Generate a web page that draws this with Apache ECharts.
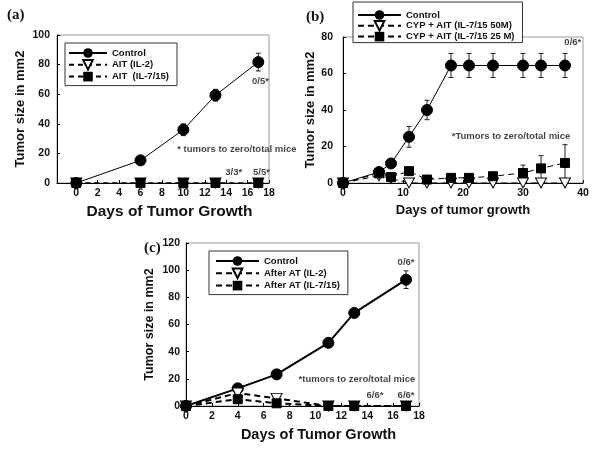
<!DOCTYPE html>
<html><head><meta charset="utf-8">
<script src="https://cdn.jsdelivr.net/npm/echarts@6/dist/echarts.min.js"></script>
<style>html,body{margin:0;padding:0;background:#fff}#c{width:600px;height:449px}</style>
</head><body><div id="c"></div>
<script>
// ---- Panel (a) ----
var aDays = [0, 6, 10, 13, 17];
var aControl = [0, 15.3, 36, 59.3, 81.7];
var aControlErr = [0, 1, 4, 4, 6];
var aIL2 = [0, 0, 0, 0, 0];
var aIL715 = [0, 0, 0, 0, 0];
var aTicks = [0, 2, 4, 6, 8, 10, 12, 14, 16, 18];
var aNotes = [[17.2, 69, '0/5*'], [15, 22.6, '* tumors to zero/total mice'], [14.7, 6.9, '3/3*'], [17.3, 6.9, '5/5*']];

// ---- Panel (b) ----
var bDays = [0, 6, 8, 11, 14, 18, 21, 25, 30, 33, 37];
var bControl = [0, 6, 10.7, 25.3, 40, 64.4, 64.4, 64.4, 64.4, 64.4, 64.4];
var bControlErr = [0, 1, 2, 5.7, 5.3, 6.6, 6.6, 6.6, 6.6, 6.6, 6.6];
var b50M = [0, 4, 2.5, 0, 0, 0, 0, 0, 0, 0, 0];
var b25M = [0, 5.3, 3.3, 6.5, 1.9, 2.8, 2.8, 3.7, 5.5, 8, 11];
var b25MErr = [0, 0, 0, 0, 0, 0, 0, 1, 4.3, 7, 10];
var bNotes = [[38.3, 77, '0/6*', 'center'], [28, 25.3, '*Tumors to zero/total mice', 'center'], [40.1, 18.9, '4/5*', 'left'], [40.1, 5.7, '6/6*', 'left']];

// ---- Panel (c) ----
var cDays = [0, 4, 7, 11, 13, 17];
var cControl = [0, 13, 23.3, 46.5, 68.5, 93];
var cControlErr = [0, 0, 0, 0, 0, 6.5];
var cIL2 = [0, 9.5, 5.6, 0, 0, 0];
var cIL715 = [0, 5, 2, 0, 0, 0];
var cNotes = [[17, 105.6, '0/6*'], [13.2, 19.6, '*tumors to zero/total mice'], [14.6, 8.1, '6/6*'], [17, 8.1, '6/6*']];

function pairs(xs, ys) { return xs.map(function (x, i) { return [x, ys[i]]; }); }
function triples(xs, ys, es) { return xs.map(function (x, i) { return [x, ys[i], es[i]]; }); }

var FONT = '"Liberation Sans", Arial, sans-serif';
var TRI = 'path://M0,0 L10,0 L5,9 Z';

function errRender(params, api) {
  var x = api.value(0), y = api.value(1), e = api.value(2);
  if (!e) return null;
  var t = api.coord([x, y + e]), b = api.coord([x, y - e]);
  var w = 2.5, st = { stroke: '#222', lineWidth: 1 };
  return { type: 'group', children: [
    { type: 'line', shape: { x1: t[0], y1: t[1], x2: b[0], y2: b[1] }, style: st },
    { type: 'line', shape: { x1: t[0] - w, y1: t[1], x2: t[0] + w, y2: t[1] }, style: st },
    { type: 'line', shape: { x1: b[0] - w, y1: b[1], x2: b[0] + w, y2: b[1] }, style: st }
  ] };
}

function errSeries(idx, xs, ys, es) {
  return { type: 'custom', xAxisIndex: idx, yAxisIndex: idx, renderItem: errRender,
    data: triples(xs, ys, es), encode: { x: 0, y: [1] }, z: 1, silent: true, clip: false };
}
function noteSeries(idx, notes, size) {
  return { type: 'scatter', xAxisIndex: idx, yAxisIndex: idx, symbolSize: 0, silent: true, z: 10,
    data: notes.map(function (n) { return { value: [n[0], n[1]], name: n[2],
      label: { align: n[3] || 'center' } }; }),
    label: { show: true, position: 'inside', formatter: '{b}', color: '#111',
      fontFamily: FONT, fontWeight: 'bold', fontSize: size } };
}
function lineSeries(idx, name, xs, ys, opt) {
  return Object.assign({ type: 'line', name: name, xAxisIndex: idx, yAxisIndex: idx,
    data: pairs(xs, ys), z: 3 }, opt);
}
function circleStyle(w) {
  return { symbol: 'circle', symbolSize: 11, itemStyle: { color: '#000', borderColor: '#000' },
    lineStyle: { color: '#000', width: w, type: 'solid' } };
}
function triStyle(w, dash) {
  return { symbol: TRI, symbolSize: [11, 10], itemStyle: { color: '#fff', borderColor: '#000', borderWidth: 1 },
    lineStyle: { color: '#000', width: w, type: dash } };
}
function sqStyle(w, dash) {
  return { symbol: 'rect', symbolSize: 9, itemStyle: { color: '#000', borderColor: '#000' },
    lineStyle: { color: '#000', width: w, type: dash } };
}

function xAxis(idx, min, max, ticks, name, nsize, padLeft) {
  return { type: 'value', gridIndex: idx, min: min, max: max, name: name, nameLocation: 'middle', nameGap: 21,
    nameTextStyle: { fontFamily: FONT, fontWeight: 'bold', fontSize: nsize, color: '#111', padding: [0, 0, 0, padLeft] },
    axisLine: { onZero: false, lineStyle: { color: '#000', width: 1 } },
    axisTick: { show: true, inside: true, length: 3, customValues: ticks, lineStyle: { color: '#000' } },
    axisLabel: { customValues: ticks, margin: 5, fontFamily: FONT, fontWeight: 'bold', fontSize: 10.5, color: '#111' },
    splitLine: { show: false } };
}
function yAxis(idx, max, name, nsize, gap, lmargin) {
  return { type: 'value', gridIndex: idx, min: 0, max: max, interval: 20, name: name, nameLocation: 'middle', nameGap: gap,
    nameTextStyle: { fontFamily: FONT, fontWeight: 'bold', fontSize: nsize, color: '#111' },
    axisLine: { show: true, onZero: false, lineStyle: { color: '#000', width: 1 } },
    axisTick: { show: true, inside: true, length: 3, lineStyle: { color: '#000' } },
    axisLabel: { margin: lmargin, fontFamily: FONT, fontWeight: 'bold', fontSize: 10.5, color: '#111' },
    splitLine: { show: false } };
}
function legend(names, left, top, pad, iw, gap) {
  return { data: names, orient: 'vertical', left: left, top: top, padding: pad, itemGap: gap,
    itemWidth: iw, itemHeight: 12, backgroundColor: '#fff', borderColor: '#333', borderWidth: 1,
    borderRadius: 0, selectedMode: false,
    textStyle: { fontFamily: FONT, fontWeight: 'bold', fontSize: 9.5, color: '#111' } };
}

var chart = echarts.init(document.getElementById('c'), null, { renderer: 'canvas' });
chart.setOption({
  animation: false,
  backgroundColor: '#fff',
  grid: [
    { left: 57, top: 35, right: 331, bottom: 266, show: true, borderColor: '#999', borderWidth: 1 },
    { left: 343, top: 37, right: 17, bottom: 266, show: true, borderColor: '#999', borderWidth: 1 },
    { left: 186, top: 243, right: 181, bottom: 43, show: true, borderColor: '#999', borderWidth: 1 }
  ],
  xAxis: [
    xAxis(0, -1.8, 18, aTicks, 'Days of Tumor Growth', 15.5, 13),
    xAxis(1, 0, 40, [0, 10, 20, 30, 40], 'Days of tumor growth', 13, 0),
    xAxis(2, 0, 18, aTicks, 'Days of Tumor Growth', 14.5, 32)
  ],
  yAxis: [
    yAxis(0, 100, 'Tumor size in mm2', 13, 30, 7),
    yAxis(1, 80, 'Tumor size in mm2', 13, 19, 10),
    yAxis(2, 120, 'Tumor size in mm2', 12.5, 30, 6)
  ],
  legend: [
    legend(['Control', 'AIT (IL-2)', 'AIT  (IL-7/15)'], 65, 43, [5, 8, 4, 3], 38, 1),
    legend(['Control ', 'CYP + AIT (IL-7/15 50M)', 'CYP + AIT (IL-7/15 25 M)'], 353, 2, [8, 8, 1, 4], 43, 0),
    legend(['Control  ', 'After AT (IL-2)', 'After AT (IL-7/15)'], 209, 251, [5, 8, 4, 6], 43, 1.5)
  ],
  graphic: [
    { type: 'text', left: 7, top: 8, style: { text: '(a)', font: 'bold 15px "Liberation Serif", serif', fill: '#111' } },
    { type: 'text', left: 306, top: 10, style: { text: '(b)', font: 'bold 15px "Liberation Serif", serif', fill: '#111' } },
    { type: 'text', left: 144, top: 241, style: { text: '(c)', font: 'bold 15px "Liberation Serif", serif', fill: '#111' } }
  ],
  series: [
    errSeries(0, aDays, aControl, aControlErr),
    lineSeries(0, 'AIT (IL-2)', aDays, aIL2, triStyle(1, [5, 4])),
    lineSeries(0, 'AIT  (IL-7/15)', aDays, aIL715, sqStyle(1, [5, 4])),
    lineSeries(0, 'Control', aDays, aControl, circleStyle(1)),
    noteSeries(0, aNotes, 9.5),

    errSeries(1, bDays, bControl, bControlErr),
    errSeries(1, bDays, b25M, b25MErr),
    lineSeries(1, 'CYP + AIT (IL-7/15 50M)', bDays, b50M, triStyle(1, [6, 4])),
    lineSeries(1, 'Control ', bDays, bControl, circleStyle(1)),
    lineSeries(1, 'CYP + AIT (IL-7/15 25 M)', bDays, b25M, sqStyle(1, [6, 4])),
    noteSeries(1, bNotes, 9.5),

    errSeries(2, cDays, cControl, cControlErr),
    lineSeries(2, 'Control  ', cDays, cControl, circleStyle(2)),
    lineSeries(2, 'After AT (IL-2)', cDays, cIL2, triStyle(2, [6, 4])),
    lineSeries(2, 'After AT (IL-7/15)', cDays, cIL715, sqStyle(2, [6, 4])),
    noteSeries(2, cNotes, 9.5)
  ]
});
</script></body></html>
